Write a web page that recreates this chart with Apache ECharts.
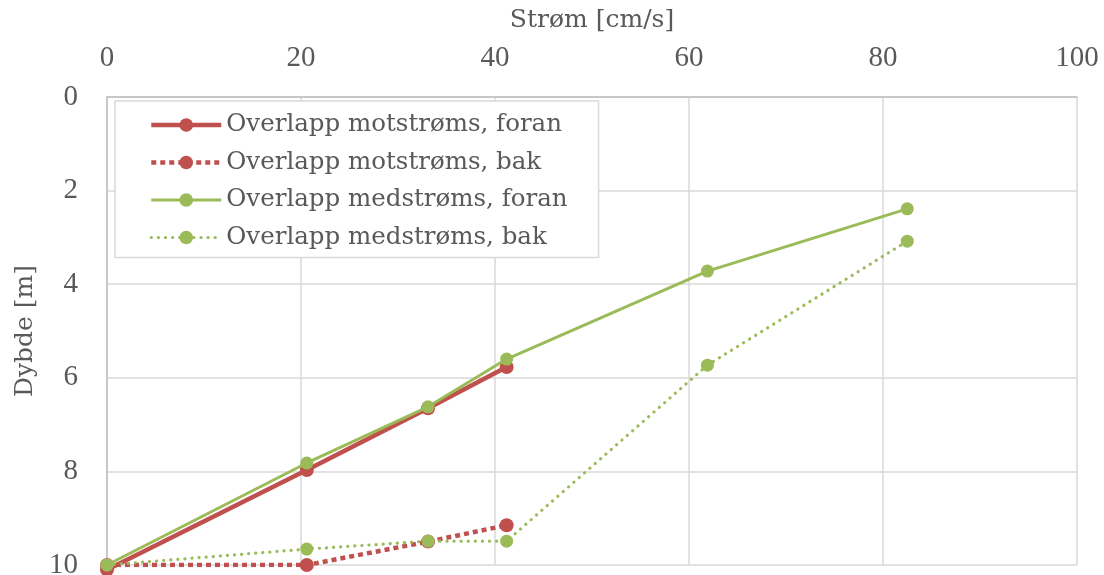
<!DOCTYPE html>
<html><head><meta charset="utf-8">
<script src="https://cdn.jsdelivr.net/npm/echarts@6/dist/echarts.min.js"></script>
<style>html,body{margin:0;padding:0;background:#fff}#c{width:1104px;height:575px}</style>
</head><body><div id="c"></div>
<script>
const seriesNames = ['Overlapp motstrøms, foran','Overlapp motstrøms, bak','Overlapp medstrøms, foran','Overlapp medstrøms, bak'];
const motForanX = [0, 20.6, 33.1, 41.2];
const motForanY = [10.1, 7.97, 6.65, 5.77];
const motBakX = [0, 20.6, 33.1, 41.2];
const motBakY = [10.0, 10.0, 9.5, 9.15];
const medForanX = [0, 20.6, 33.1, 41.2, 61.9, 82.5];
const medForanY = [10.0, 7.82, 6.62, 5.6, 3.72, 2.39];
const medBakX = [0, 20.6, 33.1, 41.2, 61.9, 82.5];
const medBakY = [10.0, 9.66, 9.49, 9.49, 5.73, 3.08];
const xTicks = {min: 0, max: 100, interval: 20};
const yTicks = {min: 0, max: 10, interval: 2};
const xName = 'Strøm [cm/s]';
const yName = 'Dybde [m]';

const pairs = (xs, ys) => xs.map((x, i) => [x, ys[i]]);
const RED = '#c0504d', GREEN = '#9bbb59', TXT = '#595959';
const FONT = 'DejaVu Serif';
const NUMFONT = 'Liberation Serif';

const styles = [
  {color: RED, width: 4.5, type: 'solid', cap: 'butt', size: 14},
  {color: RED, width: 4.5, type: [5, 4], cap: 'butt', size: 14},
  {color: GREEN, width: 3, type: 'solid', cap: 'butt', size: 13},
  {color: GREEN, width: 3.2, type: [0.1, 7], cap: 'round', size: 13}
];

const chart = echarts.init(document.getElementById('c'), null, {renderer: 'canvas'});
chart.setOption({
  animation: false,
  textStyle: {fontFamily: FONT, color: TXT},
  grid: {left: 107, right: 27, top: 97, bottom: 10, containLabel: false, outerBoundsMode: 'none'},
  xAxis: {
    type: 'value', position: 'top', min: xTicks.min, max: xTicks.max, interval: xTicks.interval,
    name: xName, nameLocation: 'middle', nameGap: 64,
    nameTextStyle: {fontFamily: FONT, fontSize: 25, color: TXT},
    axisLine: {show: true, lineStyle: {color: '#bfbfbf', width: 1.5}},
    axisTick: {show: false},
    axisLabel: {fontFamily: NUMFONT, fontSize: 29, color: TXT, margin: 24},
    splitLine: {show: true, lineStyle: {color: '#d9d9d9', width: 1.5}}
  },
  yAxis: {
    type: 'value', inverse: true, min: yTicks.min, max: yTicks.max, interval: yTicks.interval,
    name: yName, nameLocation: 'middle', nameGap: 67, nameRotate: 90,
    nameTextStyle: {fontFamily: FONT, fontSize: 25, color: TXT},
    axisLine: {show: true, lineStyle: {color: '#bfbfbf', width: 1.5}},
    axisTick: {show: false},
    axisLabel: {fontFamily: NUMFONT, fontSize: 29, color: TXT, margin: 29},
    splitLine: {show: true, lineStyle: {color: '#d9d9d9', width: 1.5}}
  },
  legend: {
    orient: 'vertical', left: 115, top: 101,
    padding: [10, 31, 6, 34], itemGap: 9.5, itemWidth: 70, itemHeight: 17,
    backgroundColor: '#fff', borderColor: '#d9d9d9', borderWidth: 1.5,
    textStyle: {fontFamily: FONT, fontSize: 24.5, color: TXT, lineHeight: 28},
    data: seriesNames.map((n, i) => ({
      name: n,
      itemStyle: {color: styles[i].color},
      lineStyle: {color: styles[i].color, width: styles[i].width, type: styles[i].type, cap: styles[i].cap}
    }))
  },
  series: [
    {name: seriesNames[2], type: 'line', data: pairs(medForanX, medForanY), symbol: 'circle', symbolSize: styles[2].size,
     itemStyle: {color: GREEN}, lineStyle: {color: GREEN, width: styles[2].width}, z: 3},
    {name: seriesNames[3], type: 'line', data: pairs(medBakX, medBakY), symbol: 'circle', symbolSize: styles[3].size,
     itemStyle: {color: GREEN}, lineStyle: {color: GREEN, width: styles[3].width, type: styles[3].type, cap: 'round'}, z: 3},
    {name: seriesNames[0], type: 'line', data: pairs(motForanX, motForanY), symbol: 'circle', symbolSize: styles[0].size, clip: false,
     itemStyle: {color: RED}, lineStyle: {color: RED, width: styles[0].width}, z: 2},
    {name: seriesNames[1], type: 'line', data: pairs(motBakX, motBakY), symbol: 'circle', symbolSize: styles[1].size,
     itemStyle: {color: RED}, lineStyle: {color: RED, width: styles[1].width, type: styles[1].type}, z: 2}
  ]
});
</script></body></html>
